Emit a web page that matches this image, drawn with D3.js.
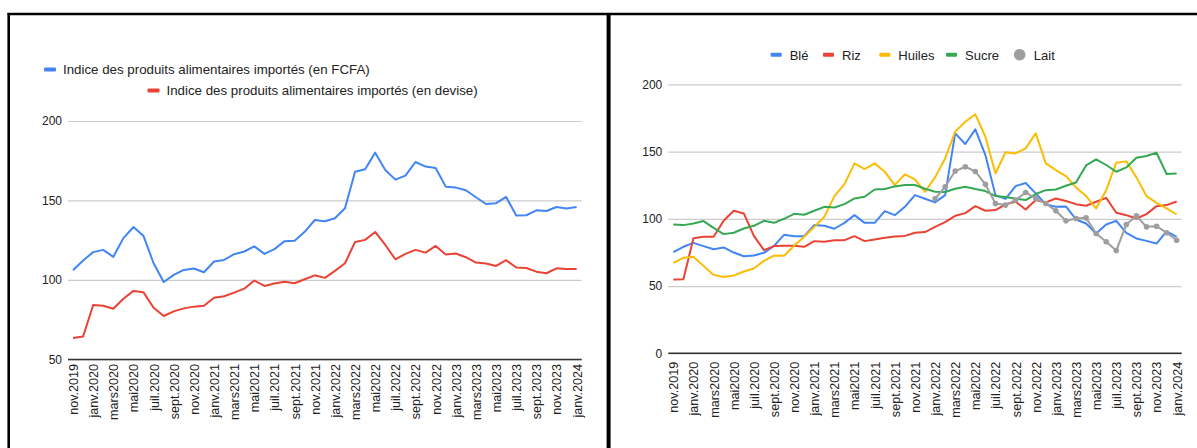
<!DOCTYPE html>
<html>
<head>
<meta charset="utf-8">
<script src="https://cdn.jsdelivr.net/npm/d3@7/dist/d3.min.js"></script>
<style>
  html, body { margin: 0; padding: 0; background: #fff; }
  svg { display: block; font-family: Arial, "Liberation Sans", sans-serif; }
</style>
</head>
<body>
<svg id="chart" width="1197" height="448"></svg>
<script>
// Monthly categories, nov. 2019 -> janv. 2024
const months = [
  "nov.2019", "déc.2019",
  "janv.2020", "févr.2020", "mars2020", "avr.2020", "mai2020", "juin2020",
  "juil.2020", "août2020", "sept.2020", "oct.2020", "nov.2020", "déc.2020",
  "janv.2021", "févr.2021", "mars2021", "avr.2021", "mai2021", "juin2021",
  "juil.2021", "août2021", "sept.2021", "oct.2021", "nov.2021", "déc.2021",
  "janv.2022", "févr.2022", "mars2022", "avr.2022", "mai2022", "juin2022",
  "juil.2022", "août2022", "sept.2022", "oct.2022", "nov.2022", "déc.2022",
  "janv.2023", "févr.2023", "mars2023", "avr.2023", "mai2023", "juin2023",
  "juil.2023", "août2023", "sept.2023", "oct.2023", "nov.2023", "déc.2023",
  "janv.2024"
];

// Axis labels shown on the category axis (every second month)
const monthTicks = [
  "nov.2019", "janv.2020", "mars2020", "mai2020", "juil.2020", "sept.2020",
  "nov.2020", "janv.2021", "mars2021", "mai2021", "juil.2021", "sept.2021",
  "nov.2021", "janv.2022", "mars2022", "mai2022", "juil.2022", "sept.2022",
  "nov.2022", "janv.2023", "mars2023", "mai2023", "juil.2023", "sept.2023",
  "nov.2023", "janv.2024"
];

// Left panel: import food price index
const indiceFcfa = [
  106.1, 112.2, 117.5, 118.9, 114.5, 126.3, 133.3, 127.6, 110.5, 98.7,
  103.2, 106.3, 107.2, 104.8, 111.6, 112.6, 116.2, 117.9, 121.1, 116.4,
  119.4, 124.4, 124.6, 130.3, 137.7, 136.9, 138.8, 145.1, 168.1, 169.6,
  180.1, 169.2, 163.1, 165.6, 174.2, 171.3, 170.4, 158.7, 158.1, 156.4,
  152.0, 147.8, 148.3, 152.2, 140.5, 140.7, 143.8, 143.4, 145.9, 144.9,
  145.9
];
const indiceDevise = [
  63.4, 64.4, 84.2, 83.8, 81.9, 88.2, 93.1, 92.2, 82.5, 77.3,
  80.2, 82.1, 83.2, 83.8, 88.8, 89.7, 92.0, 94.5, 99.6, 96.2,
  97.7, 98.9, 97.9, 100.4, 102.9, 101.3, 105.7, 110.5, 123.9, 125.2,
  130.2, 122.0, 113.0, 116.4, 118.9, 117.2, 121.4, 116.0, 116.6, 114.3,
  110.9, 110.3, 108.8, 112.4, 107.8, 107.5, 105.2, 104.2, 107.3, 106.9,
  106.9
];
const leftTicks = [50, 100, 150, 200];

// Right panel: index per product
const ble = [
  75.2, 79.2, 82.1, 79.7, 77.4, 78.7, 74.9, 72.2, 72.7, 74.7,
  79.9, 88.1, 87.1, 87.1, 95.3, 94.8, 92.6, 97.0, 102.7, 97.0,
  97.0, 105.7, 102.7, 108.9, 117.6, 114.9, 112.2, 117.6, 163.5, 155.6,
  166.5, 147.4, 117.6, 114.8, 124.3, 126.6, 118.9, 110.7, 108.9, 109.2,
  99.5, 96.5, 89.1, 95.8, 98.5, 89.6, 85.4, 83.6, 81.6, 90.6,
  86.6
];
const riz = [
  54.8, 55.1, 85.6, 86.6, 86.6, 98.5, 106.0, 104.0, 87.3, 76.7,
  79.7, 79.9, 79.9, 79.2, 83.4, 82.9, 84.1, 84.1, 87.1, 83.4,
  84.6, 85.9, 86.8, 87.3, 89.6, 90.1, 94.0, 97.5, 102.2, 104.2,
  109.4, 106.0, 106.5, 110.8, 112.7, 106.9, 113.9, 112.2, 115.1, 113.2,
  110.9, 109.7, 112.7, 115.6, 104.5, 102.7, 100.2, 103.5, 109.4, 110.2,
  112.9
];
const huiles = [
  67.2, 71.0, 71.7, 65.0, 58.3, 56.8, 57.8, 60.8, 63.0, 68.7,
  72.7, 72.5, 79.9, 86.6, 94.0, 101.5, 116.9, 125.8, 141.2, 137.0,
  141.2, 135.0, 125.1, 133.0, 129.3, 120.1, 130.8, 144.9, 164.8, 172.2,
  177.7, 161.0, 133.7, 149.5, 148.6, 152.4, 163.5, 141.2, 136.2, 131.8,
  123.3, 116.9, 107.7, 121.3, 141.7, 142.7, 130.8, 116.9, 111.9, 107.7,
  103.2
];
const sucre = [
  95.8, 95.3, 96.5, 98.3, 93.3, 88.6, 89.6, 92.8, 94.8, 98.5,
  97.0, 100.0, 103.7, 103.0, 106.0, 108.9, 108.4, 110.9, 115.1, 116.4,
  121.8, 122.1, 124.1, 125.1, 125.1, 122.3, 120.1, 119.9, 122.3, 123.8,
  122.1, 120.6, 116.9, 116.2, 114.9, 113.9, 118.4, 121.3, 121.8, 124.6,
  127.0, 139.7, 144.2, 140.0, 135.0, 138.2, 145.4, 146.7, 149.1, 133.3,
  133.7
];
// Milk series starts in janv.2022
const lait = [
  null, null, null, null, null, null, null, null, null, null,
  null, null, null, null, null, null, null, null, null, null,
  null, null, null, null, null, null, 114.9, 123.8, 135.5, 138.7,
  135.2, 125.6, 111.4, 110.2, 113.9, 119.6, 115.1, 111.4, 106.0, 98.5,
  100.2, 100.7, 89.1, 82.9, 76.4, 95.8, 102.2, 94.0, 94.5, 89.6,
  84.1
];
const rightTicks = [0, 50, 100, 150, 200];

const svg = d3.select("#chart");

// Panel frames
const frame = svg.append("g").attr("stroke", "#000").attr("fill", "none");
frame.append("line").attr("x1", 7.5).attr("x2", 1197).attr("y1", 14).attr("y2", 14).attr("stroke-width", 2.6);
frame.append("line").attr("x1", 8.7).attr("x2", 8.7).attr("y1", 13).attr("y2", 448).attr("stroke-width", 2.6);
frame.append("line").attr("x1", 608.6).attr("x2", 608.6).attr("y1", 13).attr("y2", 448).attr("stroke-width", 4);

function drawPanel(opt) {
  const g = svg.append("g");
  const x = d3.scalePoint().domain(months).range([opt.left, opt.right]).padding(0.5);
  const y = d3.scaleLinear().domain(opt.domain).range([opt.bottom, opt.top]);

  // gridlines + value labels
  const yAxis = g.append("g")
    .attr("transform", `translate(${opt.left},0)`)
    .call(d3.axisLeft(y).tickValues(opt.ticks).tickSize(-(opt.right - opt.left)).tickPadding(6).tickFormat(d3.format("d")));
  yAxis.select(".domain").remove();
  yAxis.selectAll(".tick line").attr("stroke", "#cccccc").attr("stroke-width", 1.2);
  yAxis.selectAll(".tick text").attr("fill", "#222").attr("font-size", 12).attr("font-family", "Arial, 'Liberation Sans', sans-serif");

  // baseline
  g.append("line")
    .attr("x1", opt.left).attr("x2", opt.right)
    .attr("y1", y(opt.domain[0])).attr("y2", y(opt.domain[0]))
    .attr("stroke", "#333").attr("stroke-width", 1.5);

  // category labels
  const xAxis = g.append("g")
    .attr("transform", `translate(0,${y(opt.domain[0])})`)
    .call(d3.axisBottom(x).tickValues(monthTicks).tickSize(0));
  xAxis.select(".domain").remove();
  xAxis.selectAll(".tick text")
    .attr("transform", "rotate(-90)")
    .attr("x", -opt.labelGap).attr("y", 0).attr("dy", "0.35em")
    .attr("text-anchor", "end")
    .attr("fill", "#222").attr("font-size", 12.6)
    .attr("font-family", "Arial, 'Liberation Sans', sans-serif");

  const line = d3.line()
    .defined(d => d != null)
    .x((d, i) => x(months[i]))
    .y(d => y(d));

  opt.series.forEach(s => {
    g.append("path")
      .datum(s.values)
      .attr("fill", "none")
      .attr("stroke", s.color)
      .attr("stroke-width", 2)
      .attr("stroke-linejoin", "round")
      .attr("d", line);
    if (s.dots) {
      g.selectAll(null)
        .data(s.values.map((v, i) => ({ v, m: months[i] })).filter(d => d.v != null))
        .enter().append("circle")
        .attr("cx", d => x(d.m)).attr("cy", d => y(d.v))
        .attr("r", 2.8).attr("fill", s.color);
    }
  });
  return g;
}

const blue = "#4285F4", red = "#EA4335", yellow = "#FBBC04", green = "#34A853", grey = "#9E9E9E";

drawPanel({
  left: 68, right: 581.7, top: 121, bottom: 359.4, domain: [50, 200], ticks: leftTicks, labelGap: 4.5,
  series: [
    { values: indiceFcfa, color: blue },
    { values: indiceDevise, color: red }
  ]
});

drawPanel({
  left: 668.3, right: 1181.7, top: 84.3, bottom: 353.3, domain: [0, 200], ticks: rightTicks, labelGap: 8.5,
  series: [
    { values: ble, color: blue },
    { values: riz, color: red },
    { values: huiles, color: yellow },
    { values: sucre, color: green },
    { values: lait, color: grey, dots: true }
  ]
});

// Legend, left panel (wrapped on two rows)
const legL = svg.append("g").attr("font-size", 13.3).attr("fill", "#222");
[
  { label: "Indice des produits alimentaires importés (en FCFA)", color: blue, x: 44, y: 69.5 },
  { label: "Indice des produits alimentaires importés (en devise)", color: red, x: 147.5, y: 90.5 }
].forEach(d => {
  legL.append("rect").attr("x", d.x).attr("y", d.y - 2).attr("width", 12).attr("height", 4).attr("rx", 1).attr("fill", d.color);
  legL.append("text").attr("x", d.x + 19).attr("y", d.y).attr("dy", "0.35em").text(d.label);
});

// Legend, right panel
const legR = svg.append("g").attr("font-size", 13).attr("fill", "#222");
[
  { label: "Blé", color: blue, x: 770.7 },
  { label: "Riz", color: red, x: 823 },
  { label: "Huiles", color: yellow, x: 879.3 },
  { label: "Sucre", color: green, x: 946 },
  { label: "Lait", color: grey, x: 1013.8, dot: true }
].forEach(d => {
  if (d.dot) {
    legR.append("circle").attr("cx", d.x + 5.9).attr("cy", 54.7).attr("r", 5.8).attr("fill", d.color);
    legR.append("text").attr("x", d.x + 20).attr("y", 55).attr("dy", "0.35em").text(d.label);
  } else {
    legR.append("rect").attr("x", d.x).attr("y", 52.7).attr("width", 11).attr("height", 4).attr("rx", 1).attr("fill", d.color);
    legR.append("text").attr("x", d.x + 19).attr("y", 55).attr("dy", "0.35em").text(d.label);
  }
});
</script>
</body>
</html>
